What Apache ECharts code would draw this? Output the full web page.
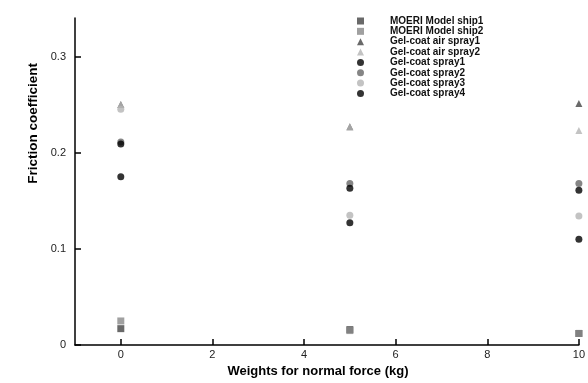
<!DOCTYPE html>
<html><head><meta charset="utf-8">
<script src="https://cdn.jsdelivr.net/npm/echarts@6/dist/echarts.min.js"></script>
<style>html,body{margin:0;padding:0;background:#fff}#c{width:588px;height:383px}</style>
</head><body><div id="c"></div>
<script>
const weights = [0, 5, 10];
const xTicks = [0, 2, 4, 6, 8, 10];
const yTicks = [0, 0.1, 0.2, 0.3];
const seriesNames = ['MOERI Model ship1','MOERI Model ship2','Gel-coat air spray1','Gel-coat air spray2','Gel-coat spray1','Gel-coat spray2','Gel-coat spray3','Gel-coat spray4'];
const ship1 = [0.017, 0.016, 0.012];
const ship2 = [0.025, 0.015, 0.012];
const airSpray1 = [0.250, 0.227, 0.251];
const airSpray2 = [0.250, 0.227, 0.223];
const spray1 = [0.209, 0.163, 0.161];
const spray2 = [0.211, 0.168, 0.168];
const spray3 = [0.245, 0.135, 0.134];
const spray4 = [0.175, 0.127, 0.110];

const values = [ship1, ship2, airSpray1, airSpray2, spray1, spray2, spray3, spray4];
const symbols = ['rect','rect','triangle','triangle','circle','circle','circle','circle'];
const colors = ['#444444','#888888','#444444','#b4b4b4','#000000','#666666','#b4b4b4','#000000'];
const layers = [2, 2, 2, 2, 3, 2, 2, 3];

const series = seriesNames.map((n, i) => ({
  name: n, type: 'scatter', symbol: symbols[i], symbolSize: 7, z: layers[i],
  itemStyle: {color: colors[i]},
  data: weights.map((w, j) => [w, values[i][j]])
}));

const chart = echarts.init(document.getElementById('c'));
chart.setOption({
  animation: false,
  grid: {left: 75, right: 9, top: 18, bottom: 36},
  legend: {
    orient: 'vertical', left: 352, top: 11, itemWidth: 7, itemHeight: 7, itemGap: 0.35,
    data: seriesNames,
    textStyle: {fontFamily: 'Liberation Sans, Arial', fontWeight: 'bold', fontSize: 10, color: '#111', padding: [0,0,0,21], lineHeight: 8}
  },
  xAxis: {
    type: 'value', min: -1, max: 10,
    name: 'Weights for normal force (kg)', nameLocation: 'middle', nameGap: 20,
    nameTextStyle: {fontFamily: 'Liberation Sans, Arial', fontWeight: 'bold', fontSize: 13, color: '#000', padding: [0,18,0,0]},
    axisLine: {onZero: false, lineStyle: {color: '#000', width: 1.5}},
    axisTick: {inside: true, length: 6, lineStyle: {color: '#000', width: 1.5}, customValues: xTicks},
    axisLabel: {color: '#222', fontFamily: 'Liberation Sans, Arial', fontSize: 11, margin: 4, customValues: xTicks},
    splitLine: {show: false}
  },
  yAxis: {
    type: 'value', min: 0, max: 0.34,
    axisLine: {onZero: false, lineStyle: {color: '#000', width: 1.5}},
    axisTick: {inside: true, length: 6, lineStyle: {color: '#000', width: 1.5}, customValues: yTicks},
    axisLabel: {color: '#222', fontFamily: 'Liberation Sans, Arial', fontSize: 11, margin: 9, customValues: yTicks,
      formatter: v => v === 0 ? '0' : v.toFixed(1)},
    splitLine: {show: false}
  },
  graphic: [{
    type: 'text', left: 26, top: 63, rotation: Math.PI/2,
    style: {text: 'Friction coefficient', font: 'bold 13.5px "Liberation Sans", Arial', fill: '#000'}
  }],
  series: series
});
</script></body></html>
